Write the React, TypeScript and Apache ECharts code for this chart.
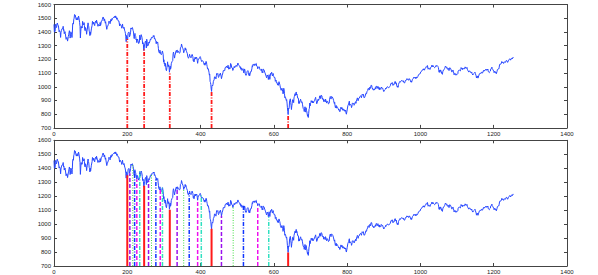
import React, { useEffect, useRef } from "react";
import * as echarts from "echarts";

// Daily closes, year by year
const y2000 = [
  1455, 1399, 1402, 1403, 1441, 1457, 1438, 1432, 1449, 1465, 1455, 1456, 1445, 1441, 1401, 1410, 1404, 1398, 1360, 1394,
  1409, 1409, 1424, 1424, 1424, 1441, 1411, 1416, 1387, 1389, 1402, 1388, 1388, 1346, 1352, 1360, 1353, 1333, 1348, 1366,
  1379, 1381, 1409, 1391, 1355, 1366, 1401, 1395, 1383, 1359, 1392, 1458, 1464, 1457, 1493, 1500, 1527, 1527, 1523, 1507, 1508, 1487, 1499,
  1505, 1494, 1487, 1501, 1516, 1504, 1500, 1467, 1440, 1356, 1401, 1441, 1428, 1434, 1429, 1477, 1460, 1464, 1452,
  1468, 1446, 1415, 1409, 1432, 1424, 1412, 1383, 1407, 1420, 1452, 1466, 1448, 1437, 1406, 1400, 1373, 1400, 1381, 1378, 1422, 1421,
  1448, 1477, 1467, 1457, 1471, 1461, 1457, 1446, 1470, 1471, 1479, 1464, 1486, 1476, 1480, 1453, 1441, 1455, 1450, 1454, 1443, 1454,
  1469, 1446, 1457, 1478, 1475, 1480, 1492, 1496, 1509, 1510, 1493, 1481, 1495, 1480, 1464, 1474, 1452, 1449, 1419, 1431,
  1438, 1438, 1452, 1462, 1479, 1482, 1472, 1460, 1471, 1491, 1485, 1479, 1497, 1491, 1499, 1498, 1505, 1508, 1506, 1514, 1509, 1502, 1517,
  1520, 1507, 1492, 1503, 1494, 1489, 1481, 1484, 1480, 1465, 1444, 1459, 1451, 1449, 1449, 1439, 1427, 1426, 1458, 1436,
  1436, 1426, 1434, 1436, 1408, 1402, 1387, 1364, 1329, 1374, 1374, 1349, 1342, 1389, 1396, 1395, 1398, 1364, 1364, 1379, 1398, 1429,
  1421, 1428, 1426, 1432, 1431, 1409, 1400, 1365, 1351, 1382, 1389, 1372, 1367, 1342, 1348, 1322, 1341, 1348, 1337, 1341, 1315,
  1315, 1324, 1376, 1351, 1343, 1369, 1380, 1371, 1360, 1340, 1312, 1322, 1305, 1264, 1274, 1305, 1315, 1328, 1334, 1320,
];
const y2001 = [
  1283, 1347, 1333, 1298, 1295, 1300, 1313, 1326, 1318, 1326, 1329, 1347, 1342, 1342, 1360, 1364, 1357, 1354, 1364, 1373, 1366,
  1373, 1349, 1354, 1352, 1340, 1332, 1314, 1330, 1318, 1315, 1326, 1301, 1278, 1255, 1252, 1245, 1267, 1257, 1240,
  1241, 1234, 1241, 1253, 1261, 1264, 1233, 1180, 1197, 1166, 1173, 1150, 1170, 1142, 1122, 1117, 1139, 1153, 1182, 1153, 1147, 1160,
  1145, 1106, 1103, 1151, 1128, 1137, 1168, 1165, 1183, 1179, 1191, 1238, 1253, 1242, 1224, 1209, 1228, 1234, 1253, 1249,
  1266, 1267, 1248, 1266, 1263, 1261, 1255, 1255, 1245, 1248, 1249, 1284, 1288, 1291, 1312, 1309, 1289, 1293, 1277, 1267, 1248, 1256,
  1260, 1267, 1284, 1270, 1277, 1264, 1255, 1255, 1241, 1219, 1214, 1208, 1212, 1223, 1237, 1225, 1218, 1216, 1211, 1226, 1224,
  1236, 1234, 1219, 1190, 1198, 1181, 1180, 1208, 1215, 1202, 1214, 1207, 1215, 1210, 1191, 1171, 1190, 1202, 1205, 1204, 1211,
  1215, 1220, 1214, 1200, 1204, 1184, 1183, 1190, 1191, 1186, 1179, 1182, 1161, 1171, 1157, 1165, 1162, 1185, 1180, 1161, 1148, 1130, 1134,
  1132, 1132, 1106, 1085, 1092, 1039, 1032, 1016, 984, 966, 1003, 1012, 1007, 1018, 1040,
  1038, 1051, 1072, 1069, 1071, 1062, 1057, 1080, 1097, 1091, 1089, 1097, 1077, 1068, 1073, 1089, 1085, 1085, 1100, 1104, 1078, 1059, 1059,
  1084, 1087, 1102, 1118, 1116, 1118, 1120, 1118, 1139, 1141, 1142, 1138, 1151, 1142, 1137, 1150, 1157, 1150, 1128, 1140, 1139,
  1130, 1144, 1170, 1167, 1158, 1139, 1136, 1137, 1119, 1124, 1134, 1142, 1149, 1139, 1144, 1144, 1149, 1157, 1161, 1148,
];
const y2002 = [
  1154, 1166, 1173, 1164, 1160, 1156, 1157, 1146, 1139, 1146, 1127, 1138, 1128, 1119, 1128, 1132, 1133, 1133, 1101, 1113, 1130,
  1122, 1094, 1090, 1083, 1080, 1096, 1111, 1107, 1118, 1116, 1104, 1083, 1097, 1080, 1089, 1109, 1109, 1109, 1107,
  1131, 1153, 1147, 1162, 1157, 1164, 1168, 1165, 1154, 1153, 1166, 1166, 1170, 1151, 1153, 1148, 1131, 1139, 1144, 1147,
  1146, 1136, 1125, 1126, 1122, 1125, 1117, 1130, 1103, 1111, 1102, 1129, 1126, 1124, 1125, 1107, 1100, 1093, 1091, 1076, 1066, 1077,
  1086, 1084, 1073, 1053, 1049, 1088, 1073, 1054, 1074, 1097, 1092, 1098, 1106, 1091, 1079, 1086, 1097, 1083, 1074, 1067, 1064, 1067,
  1040, 1040, 1049, 1029, 1027, 1030, 1014, 1020, 1010, 1007, 1037, 1037, 1019, 1007, 989, 993, 974, 973, 990, 990,
  968, 948, 953, 989, 977, 952, 920, 927, 921, 918, 900, 906, 881, 847, 820, 797, 843, 838, 852, 898, 902, 912,
  884, 864, 834, 860, 876, 905, 908, 903, 884, 919, 930, 928, 950, 937, 949, 962, 940, 947, 934, 917, 917, 916,
  878, 893, 879, 893, 902, 909, 909, 886, 889, 891, 873, 869, 843, 846, 833, 819, 840, 854, 827, 815,
  847, 827, 818, 800, 785, 798, 776, 803, 835, 842, 881, 860, 879, 884, 899, 890, 896, 882, 897, 890, 882, 890, 886,
  900, 909, 915, 923, 902, 895, 876, 882, 882, 904, 910, 900, 896, 914, 933, 930, 932, 913, 939, 936,
  934, 920, 918, 907, 912, 892, 904, 905, 902, 889, 910, 902, 891, 881, 896, 897, 892, 889, 875, 879, 880,
];
const y2003 = [
  909, 908, 929, 922, 910, 928, 927, 927, 931, 918, 914, 901, 887, 878, 887, 861, 847, 858, 864, 844, 856,
  860, 848, 843, 838, 829, 835, 829, 818, 818, 834, 851, 845, 838, 848, 832, 838, 827, 837, 841,
  834, 822, 829, 822, 829, 807, 800, 804, 831, 833, 862, 866, 874, 875, 895, 864, 874, 869, 868, 863, 848,
  858, 880, 876, 878, 879, 878, 865, 871, 868, 886, 891, 879, 893, 892, 911, 919, 911, 898, 914, 917, 916,
  916, 930, 926, 934, 929, 920, 933, 945, 942, 939, 946, 944, 920, 919, 923, 931, 933, 952, 953, 949, 964,
  968, 972, 987, 990, 987, 976, 984, 998, 999, 988, 1010, 1011, 1010, 995, 995, 981, 983, 975, 985, 976, 975,
  983, 994, 985, 1004, 1007, 1002, 988, 998, 1003, 998, 994, 981, 994, 978, 988, 989, 982, 998, 996, 990, 987, 990,
  980, 982, 965, 967, 975, 977, 980, 990, 984, 990, 990, 999, 1002, 1000, 1003, 993, 993, 997, 997, 1002, 1008,
  1021, 1026, 1027, 1021, 1031, 1023, 1010, 1016, 1018, 1015, 1029, 1025, 1039, 1036, 1022, 1029, 1009, 1003, 997, 1006, 996,
  1018, 1020, 1029, 1034, 1039, 1033, 1038, 1038, 1045, 1049, 1046, 1050, 1039, 1044, 1046, 1030, 1033, 1028, 1031, 1046, 1048, 1046, 1051,
  1059, 1052, 1052, 1058, 1053, 1047, 1047, 1059, 1058, 1050, 1044, 1034, 1042, 1033, 1035, 1053, 1054, 1058, 1058,
  1070, 1066, 1064, 1069, 1061, 1069, 1060, 1059, 1071, 1074, 1068, 1075, 1076, 1089, 1088, 1092, 1096, 1094, 1095, 1109, 1109, 1112,
];
const y2004 = [
  1108, 1122, 1124, 1126, 1131, 1122, 1127, 1121, 1130, 1132, 1139, 1138, 1147, 1143, 1141, 1155, 1144, 1128, 1134, 1131,
  1135, 1136, 1126, 1128, 1142, 1139, 1145, 1157, 1152, 1146, 1156, 1151, 1147, 1144, 1140, 1139, 1143, 1144, 1145,
  1156, 1150, 1151, 1154, 1156, 1147, 1140, 1123, 1106, 1120, 1105, 1110, 1123, 1122, 1110, 1096, 1093, 1091, 1109, 1108, 1123, 1127, 1126,
  1133, 1141, 1150, 1148, 1140, 1139, 1145, 1129, 1128, 1129, 1135, 1135, 1118, 1124, 1139, 1140, 1135, 1139, 1122, 1113, 1107,
  1117, 1119, 1122, 1113, 1099, 1087, 1096, 1097, 1097, 1095, 1084, 1092, 1088, 1089, 1093, 1095, 1114, 1117, 1121, 1121,
  1121, 1124, 1116, 1123, 1140, 1142, 1131, 1137, 1125, 1133, 1133, 1132, 1135, 1131, 1137, 1145, 1144, 1134, 1133, 1136, 1141,
  1128, 1126, 1116, 1118, 1107, 1112, 1115, 1116, 1111, 1106, 1101, 1101, 1108, 1094, 1097, 1086, 1084, 1095, 1096, 1100, 1102,
  1106, 1095, 1095, 1080, 1064, 1066, 1079, 1075, 1063, 1064, 1079, 1081, 1095, 1091, 1099, 1096, 1096, 1104, 1105, 1107, 1099, 1104,
  1105, 1118, 1113, 1121, 1116, 1119, 1123, 1125, 1129, 1120, 1124, 1128, 1122, 1129, 1113, 1108, 1110, 1103, 1110, 1114, 1115,
  1131, 1135, 1134, 1143, 1131, 1130, 1124, 1121, 1113, 1103, 1108, 1114, 1103, 1103, 1107, 1095, 1094, 1111, 1125, 1127, 1130,
  1131, 1130, 1143, 1161, 1166, 1166, 1164, 1162, 1173, 1184, 1184, 1176, 1181, 1183, 1170, 1177, 1177, 1181, 1182, 1178, 1174,
  1191, 1190, 1191, 1190, 1178, 1183, 1189, 1189, 1198, 1203, 1205, 1203, 1194, 1194, 1205, 1209, 1210, 1204, 1213, 1213, 1213, 1212,
];

const closes = [...y2000, ...y2001, ...y2002, ...y2003, ...y2004];

// Marked days
const crashDays = [200, 246, 316, 430, 639];
const followDays = [
  [207, 215, 220, 226, 234],
  [258, 266, 278, 290, 296],
  [336, 354, 369, 392, 402],
  [457, 489, 517, 556, 586],
];

const xMin = 0;
const xMax = 1400;
const xStep = 200;
const yMin = 700;
const yMax = 1600;
const yStep = 100;

const DASH_DOT = [4, 1.5, 1, 1.5];
const followStyles = [
  { color: "#9a10ee", type: [4, 2], width: 1.5 },
  { color: "#44dd44", type: [1, 1.5], width: 1 },
  { color: "#1035ff", type: DASH_DOT, width: 1.5 },
  { color: "#ee10ee", type: [4, 2], width: 1.5 },
  { color: "#30e0c0", type: DASH_DOT, width: 1.5 },
];

const AXIS_COLOR = "#444";
const FONT = "Liberation Sans";

function vline(day: number, gi: number, style: any, z = 3) {
  return {
    type: "line",
    xAxisIndex: gi * 2,
    yAxisIndex: gi * 2,
    data: [
      [day, yMin],
      [day, closes[day]],
    ],
    symbol: "none",
    silent: true,
    z,
    lineStyle: { ...style, cap: "butt" },
  };
}

function axesFor(gi: number) {
  const common = {
    gridIndex: gi,
    axisLine: { show: true, onZero: false, lineStyle: { color: AXIS_COLOR, width: 1 } },
    axisTick: { show: true, inside: true, length: 3, lineStyle: { color: AXIS_COLOR } },
    splitLine: { show: false },
  };
  const label = {
    fontSize: 6,
    color: "#222",
    margin: 3,
    fontFamily: FONT,
    formatter: (v: number) => String(v),
  };
  const xa = [
    { ...common, type: "value", position: "bottom", min: xMin, max: xMax, interval: xStep, axisLabel: label },
    { ...common, type: "value", position: "top", min: xMin, max: xMax, interval: xStep, axisLabel: { show: false } },
  ];
  const ya = [
    { ...common, type: "value", position: "left", min: yMin, max: yMax, interval: yStep, axisLabel: label },
    { ...common, type: "value", position: "right", min: yMin, max: yMax, interval: yStep, axisLabel: { show: false } },
  ];
  return { xa, ya };
}

export default function App() {
  const ref = useRef<HTMLDivElement>(null);
  useEffect(() => {
    if (!ref.current) return;
    const chart = echarts.init(ref.current, undefined, { renderer: "svg" });
    const a0 = axesFor(0);
    const a1 = axesFor(1);
    const lineData = closes.map((v, i) => [i, v]);
    const mainLine = (gi: number) => ({
      type: "line",
      xAxisIndex: gi * 2,
      yAxisIndex: gi * 2,
      data: lineData,
      symbol: "none",
      silent: true,
      z: 2,
      lineStyle: { color: "#2848ff", width: 1 },
    });
    const series: any[] = [mainLine(0), mainLine(1)];
    crashDays.forEach((d) => {
      series.push(vline(d, 0, { color: "#ff1a1a", type: DASH_DOT, width: 1.8 }));
    });
    followDays.forEach((grp) => {
      grp.forEach((d, k) => series.push(vline(d, 1, followStyles[k])));
    });
    crashDays.forEach((d) => {
      series.push(vline(d, 1, { color: "#ff1a1a", type: "solid", width: 2 }, 4));
    });
    chart.setOption({
      animation: false,
      backgroundColor: "#ffffff",
      grid: [
        { left: 54, top: 4.5, width: 513, height: 123.4 },
        { left: 54, top: 140.3, width: 513, height: 126 },
      ],
      xAxis: [...a0.xa, ...a1.xa],
      yAxis: [...a0.ya, ...a1.ya],
      series,
    });
    return () => chart.dispose();
  }, []);
  return (
    <div
      ref={ref}
      style={{ position: "fixed", left: 0, top: 0, width: 598, height: 275, background: "#fff" }}
    />
  );
}
